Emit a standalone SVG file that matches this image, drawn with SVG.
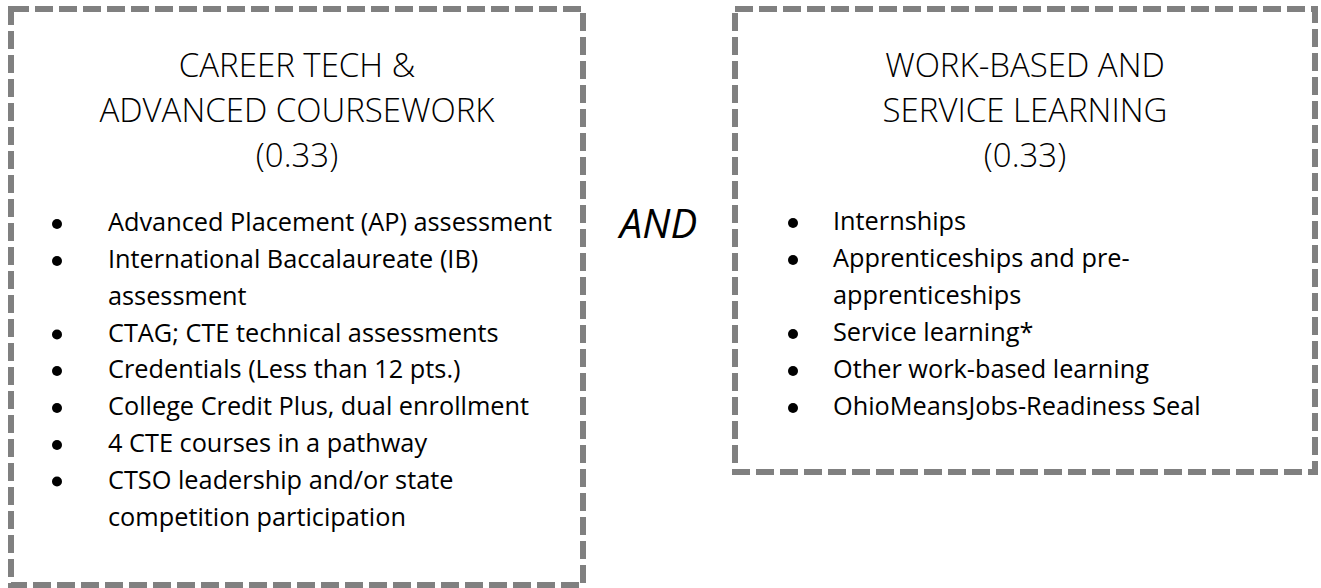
<svg xmlns="http://www.w3.org/2000/svg" width="1321" height="588" viewBox="0 0 1321 588">
<style>
.box{fill:none;stroke:#808080;stroke-width:6;stroke-dasharray:18 6}
.title{font-family:"Open Sans","Liberation Sans",sans-serif;font-weight:300;font-size:33px;fill:#000;text-anchor:middle}
.item{font-family:"Open Sans","Liberation Sans",sans-serif;font-size:25.3px;fill:#000}
.and{font-family:"Open Sans","Liberation Sans",sans-serif;font-style:italic;font-size:40px;fill:#000;text-anchor:middle}
.dot{fill:#000}
</style>
<rect width="1321" height="588" fill="#fff"/>
<g id="career-tech">
<rect class="box" x="11" y="9" width="572" height="576"/>
<text class="title" x="297" y="77">CAREER TECH &amp;</text>
<text class="title" x="297" y="122">ADVANCED COURSEWORK</text>
<text class="title" x="297" y="167">(0.33)</text>
<circle class="dot" cx="57" cy="224" r="5"/>
<text class="item" x="108" y="231">Advanced Placement (AP) assessment</text>
<circle class="dot" cx="57" cy="261" r="5"/>
<text class="item" x="108" y="268">International Baccalaureate (IB)</text>
<text class="item" x="108" y="304.5">assessment</text>
<circle class="dot" cx="57" cy="334.5" r="5"/>
<text class="item" x="108" y="341.5">CTAG; CTE technical assessments</text>
<circle class="dot" cx="57" cy="371" r="5"/>
<text class="item" x="108" y="378">Credentials (Less than 12 pts.)</text>
<circle class="dot" cx="57" cy="408" r="5"/>
<text class="item" x="108" y="415">College Credit Plus, dual enrollment</text>
<circle class="dot" cx="57" cy="445" r="5"/>
<text class="item" x="108" y="452">4 CTE courses in a pathway</text>
<circle class="dot" cx="57" cy="481.5" r="5"/>
<text class="item" x="108" y="488.5">CTSO leadership and/or state</text>
<text class="item" x="108" y="525.5">competition participation</text>
</g>
<g id="and-label">
<text class="and" x="658.5" y="238">AND</text>
</g>
<g id="work-based">
<rect class="box" x="735" y="9" width="580" height="463"/>
<text class="title" x="1025" y="77">WORK-BASED AND</text>
<text class="title" x="1025" y="122">SERVICE LEARNING</text>
<text class="title" x="1025" y="167">(0.33)</text>
<circle class="dot" cx="793" cy="223" r="5"/>
<text class="item" x="833" y="230">Internships</text>
<circle class="dot" cx="793" cy="260" r="5"/>
<text class="item" x="833" y="267">Apprenticeships and pre-</text>
<text class="item" x="833" y="304">apprenticeships</text>
<circle class="dot" cx="793" cy="334" r="5"/>
<text class="item" x="833" y="341">Service learning*</text>
<circle class="dot" cx="793" cy="371" r="5"/>
<text class="item" x="833" y="378">Other work-based learning</text>
<circle class="dot" cx="793" cy="408" r="5"/>
<text class="item" x="833" y="415">OhioMeansJobs-Readiness Seal</text>
</g>
<g id="connectors"></g>
</svg>
